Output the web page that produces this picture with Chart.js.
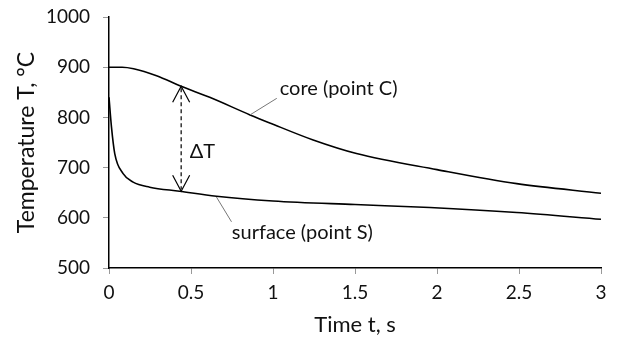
<!DOCTYPE html>
<html><head><meta charset="utf-8">
<script src="https://cdn.jsdelivr.net/npm/chart.js@4/dist/chart.umd.min.js"></script>
<style>html,body{margin:0;padding:0;background:#fff;}#wrap{width:618px;height:341px;position:relative;}</style>
</head><body><div id="wrap"><canvas id="c"></canvas></div>
<script>
// ---- data ----
const timeCore    = [0, 0.08, 0.15, 0.29, 0.44, 0.614, 0.86, 0.98, 1.245, 1.509, 2.0, 2.486, 3.0];
const tempCore    = [900, 900, 897, 883, 862, 840, 805, 789, 755, 728, 696, 668, 649];
const timeSurface = [0, 0.015, 0.035, 0.086, 0.147, 0.248, 0.43, 0.655, 1.0, 1.5, 1.957, 2.486, 3.0];
const tempSurface = [840, 781, 728, 688, 671, 661, 653, 643, 633.6, 626.4, 620.5, 610.5, 597];
const xTickValues = [0, 0.5, 1, 1.5, 2, 2.5, 3];
const yTickValues = [500, 600, 700, 800, 900, 1000];
const xTitle = 'Time t, s';
const yTitle = 'Temperature T, °C';
// annotations (data units)
const coreLabel = 'core (point C)';
const coreLabelAt = [1.041, 858];
const coreLeader = [[0.86, 805], [1.023, 838]];
const surfLabel = 'surface (point S)';
const surfLabelAt = [0.749, 571.5];
const surfLeader = [[0.655, 641.5], [0.747, 592]];
const deltaLabel = 'ΔT';
const deltaLabelAt = [0.492, 731];
const deltaArrow = [[0.44, 862], [0.44, 653]];

const FONT = 'Lato, "Open Sans", sans-serif';

const annot = {
  id: 'annot',
  afterDatasetsDraw(chart) {
    const {ctx, scales: {x, y}} = chart;
    const P = p => [x.getPixelForValue(p[0]), y.getPixelForValue(p[1])];
    ctx.save();
    ctx.strokeStyle = '#777';
    ctx.lineWidth = 1;
    [coreLeader, surfLeader].forEach(l => {
      const a = P(l[0]), b = P(l[1]);
      ctx.beginPath(); ctx.moveTo(a[0], a[1]); ctx.lineTo(b[0], b[1]); ctx.stroke();
    });
    const t = P(deltaArrow[0]), bt = P(deltaArrow[1]);
    ctx.strokeStyle = '#000';
    ctx.lineWidth = 1.2;
    ctx.setLineDash([4, 3]);
    ctx.beginPath(); ctx.moveTo(t[0], t[1] + 2); ctx.lineTo(bt[0], bt[1] - 2); ctx.stroke();
    ctx.setLineDash([]);
    const hw = 8.5, hl = 16;
    ctx.beginPath();
    ctx.moveTo(t[0] - hw, t[1] + hl); ctx.lineTo(t[0], t[1]); ctx.lineTo(t[0] + hw, t[1] + hl);
    ctx.moveTo(bt[0] - hw, bt[1] - hl); ctx.lineTo(bt[0], bt[1]); ctx.lineTo(bt[0] + hw, bt[1] - hl);
    ctx.stroke();
    ctx.fillStyle = '#111';
    ctx.font = '20px ' + FONT;
    ctx.textBaseline = 'middle';
    ctx.textAlign = 'left';
    [[coreLabel, coreLabelAt], [surfLabel, surfLabelAt], [deltaLabel, deltaLabelAt]].forEach(([s, p]) => {
      const q = P(p); ctx.fillText(s, q[0], q[1]);
    });
    ctx.restore();
  }
};

new Chart(document.getElementById('c'), {
  type: 'line',
  data: {
    datasets: [
      { label: 'core', data: timeCore.map((t, i) => ({x: t, y: tempCore[i]})),
        borderColor: '#000', borderWidth: 1.6, pointRadius: 0, fill: false, cubicInterpolationMode: 'monotone' },
      { label: 'surface', data: timeSurface.map((t, i) => ({x: t, y: tempSurface[i]})),
        borderColor: '#000', borderWidth: 1.6, pointRadius: 0, fill: false, cubicInterpolationMode: 'monotone' }
    ]
  },
  options: {
    responsive: true, maintainAspectRatio: false, animation: false,
    layout: { padding: { top: 17, right: 17, left: 0, bottom: 0 } },
    plugins: { legend: { display: false }, tooltip: { enabled: false } },
    scales: {
      x: {
        type: 'linear', min: 0, max: 3,
        afterBuildTicks: s => { s.ticks = xTickValues.map(v => ({value: v})); },
        afterFit: s => { s.height = 73; },
        grid: { drawOnChartArea: false, drawTicks: true, tickLength: 6, color: '#999' },
        border: { color: '#000', width: 1.5 },
        ticks: { color: '#111', font: { family: FONT, size: 19 }, padding: 7, callback: v => String(v), maxRotation: 0 },
        title: { display: true, text: xTitle, color: '#111', font: { family: FONT, size: 22 }, padding: { bottom: 3, top: 0 } }
      },
      y: {
        type: 'linear', min: 500, max: 1000,
        afterBuildTicks: s => { s.ticks = yTickValues.map(v => ({value: v})); },
        afterFit: s => { s.width = 109; s.paddingTop = 0; s.paddingBottom = 0; },
        grid: { drawOnChartArea: false, drawTicks: true, tickLength: 6, color: '#999' },
        border: { color: '#000', width: 1.5 },
        ticks: { color: '#111', font: { family: FONT, size: 19 }, padding: 13, callback: v => String(v) },
        title: { display: true, text: yTitle, color: '#111', font: { family: FONT, size: 23 }, padding: { top: 13, bottom: 0 } }
      }
    }
  },
  plugins: [annot]
});
</script></body></html>
